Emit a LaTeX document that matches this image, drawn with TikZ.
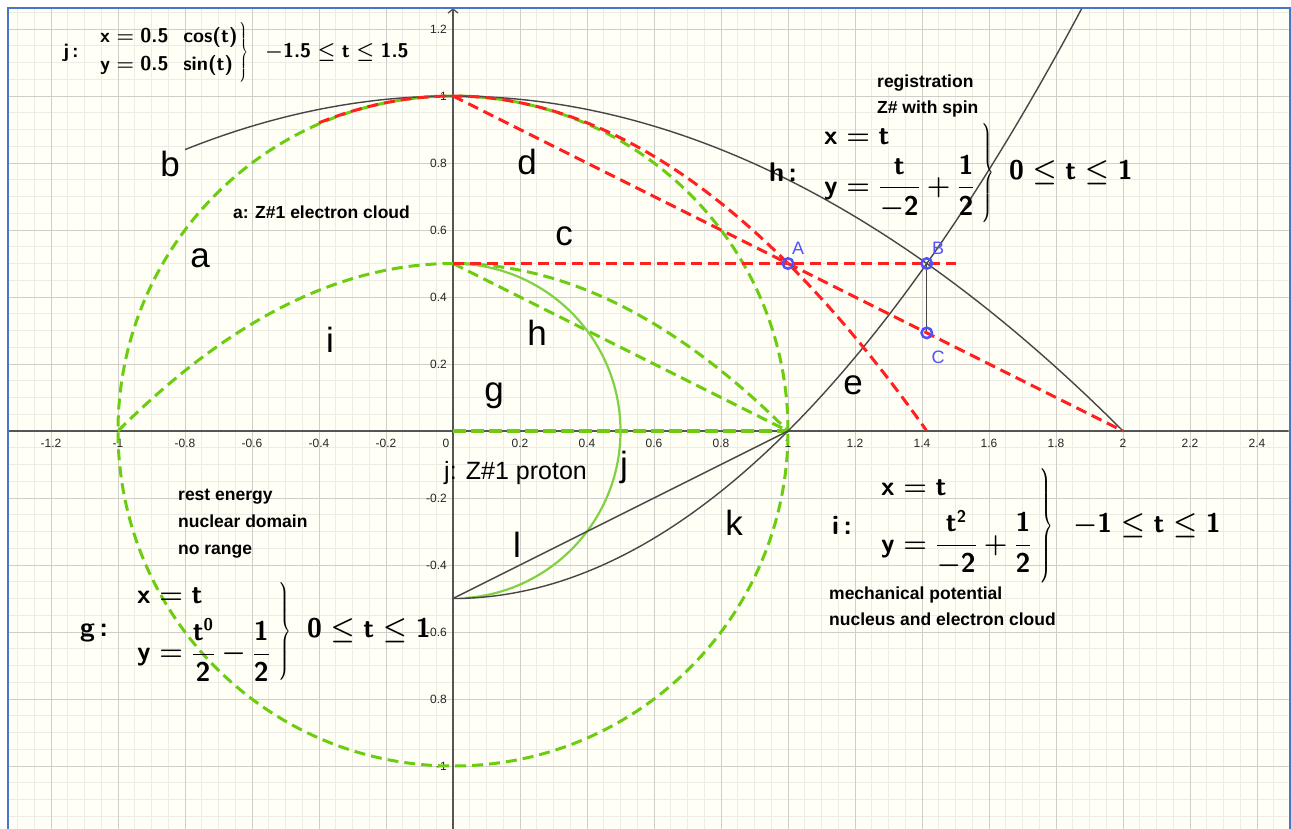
\RequirePackage{fix-cm}
\documentclass[tikz,border=0pt]{standalone}
\usepackage{amsmath}
\usepackage{graphicx}
\usepackage[no-math]{fontspec}
\setmainfont{Liberation Sans}
\usetikzlibrary{arrows.meta}
\definecolor{bgc}{RGB}{255,255,246}
\definecolor{minorc}{RGB}{237,235,230}
\definecolor{majorc}{RGB}{208,206,202}
\definecolor{framec}{RGB}{72,118,200}
\definecolor{axisc}{RGB}{85,85,85}
\definecolor{greenc}{RGB}{108,204,16}
\definecolor{greenj}{RGB}{130,208,70}
\definecolor{redc}{RGB}{255,32,32}
\definecolor{curvec}{RGB}{70,70,70}
\definecolor{bluec}{RGB}{80,80,255}
\newcommand{\fsz}[1]{\fontsize{#1}{#1}\selectfont}
\newcommand{\fb}[1]{\mbox{\sffamily\bfseries #1}}
\newcommand{\fsup}[1]{\mbox{\sffamily\bfseries\fontsize{17}{17}\selectfont #1}}
\newcommand{\mybrace}[2]{\resizebox*{#1}{#2}{\fsz{24}$\kern-\nulldelimiterspace\left.\vrule height 45pt depth 45pt width 0pt\right\}$}}
\tikzset{
 minorline/.style={minorc, line width=0.8pt},
 majorline/.style={majorc, line width=1pt},
 axisline/.style={axisc, line width=1.3pt},
 gdash/.style={greenc, line width=3pt, dash pattern=on 11pt off 6pt},
 gthick/.style={greenc, line width=4.5pt, dash pattern=on 13pt off 5pt},
 rdash/.style={redc, line width=3pt, dash pattern=on 11pt off 6pt},
 blk/.style={curvec, line width=1.4pt},
 gsolid/.style={greenj, line width=2.2pt},
 ticklab/.style={font=\fsz{12}, text=black!85, inner sep=0pt},
 biglab/.style={font=\fsz{35}, inner sep=0pt},
 note/.style={font=\fsz{17.5}\bfseries, inner sep=0pt, anchor=base west},
 ptmark/.style={draw=bluec, line width=2.5pt, circle, minimum size=10.5pt, inner sep=0pt},
 ptlab/.style={text=bluec, font=\fsz{18}, inner sep=0pt},
 fml/.style={inner sep=0pt, anchor=west},
 fbig/.style={font=\fsz{27}},
 fsmall/.style={font=\fsz{20}},
 brc/.style={inner sep=0pt},
}
\begin{document}
\begin{tikzpicture}[x=1pt,y=-1pt]
\useasboundingbox (0,0) rectangle (1291,828);
\fill[white] (0,0) rectangle (1291,828);
\fill[bgc] (7.5,7.5) rectangle (1289.5,850);
\begin{scope}
\clip (8.5,8.5) rectangle (1288.5,850);
\begin{scope}[shift={(453,431)}, x=335pt, y=335pt]
 % grid
 \foreach \i in {-28,...,51} \draw[minorline] (\i*0.05,-1.3) -- (\i*0.05,1.35);
 \foreach \i in {-25,...,26} \draw[minorline] (-1.4,\i*0.05) -- (2.6,\i*0.05);
 \foreach \i in {-7,...,13} \draw[majorline] (\i*0.2,-1.3) -- (\i*0.2,1.35);
 \foreach \i in {-6,...,6} \draw[majorline] (-1.4,\i*0.2) -- (2.6,\i*0.2);
 % named points
 \coordinate (O) at (0,0);
 \coordinate (P1) at (1,0);
 \coordinate (Q) at (0,0.5);
 \coordinate (T) at (0,1);
 \coordinate (X2) at (2,0);
 \coordinate (M) at (0,-0.5);
 \coordinate (R) at (1.5,0.5);
 \coordinate (A) at (1,0.5);
 \coordinate (B) at ({sqrt(2)},0.5);
 \coordinate (C) at ({sqrt(2)},{1-sqrt(2)/2});
 \coordinate (XL) at (-1.4,0);
 \coordinate (XR) at (2.6,0);
 \coordinate (YB) at (0,-1.3);
 \coordinate (YT) at (0,1.262);
 % axes
 \draw[axisline] (XL) -- (XR);
 \draw[axisline, -{Straight Barb[length=4pt, width=10pt]}] (YB) -- (YT);
 % tick labels
 \foreach \v [count=\k] in {-1.2,-1,-0.8,-0.6,-0.4,-0.2,0.2,0.4,0.6,0.8,1,1.2,1.4,1.6,1.8,2,2.2,2.4}
   \node[ticklab, yshift=-12pt] (xl\k) at (\v,0) {\v};
 \node[ticklab, xshift=-7pt, yshift=-12pt] (xl0) at (O) {0};
 \foreach \v/\t [count=\k] in {1.2/1.2,1/1,0.8/0.8,0.6/0.6,0.4/0.4,0.2/0.2,-0.2/-0.2,-0.4/-0.4,-0.6/-0.6,-0.8/0.8,-1/-1}
   \node[ticklab, anchor=east, xshift=-6pt] (yl\k) at (0,\v) {\t};
 % green curves
 \draw[gdash] (O) circle[radius=1];
 \draw[gdash] plot[domain=-1:1, samples=80, smooth] (\x,{0.5-\x*\x/2});
 \draw[gdash] (Q) -- (P1);
 \draw[gthick] (O) -- (P1);
 \draw[gsolid] (O) ++(-85.94:0.5) arc[start angle=-85.94, end angle=85.94, radius=0.5];
 % black curves
 \draw[blk] plot[domain=-0.8:2, samples=100, smooth] (\x,{1-\x*\x/4});
 \draw[blk] plot[domain=0:1.9, samples=100, smooth] (\x,{\x*\x/2-0.5});
 \draw[blk] (M) -- (P1);
 \draw[blk] (B) -- (C);
 % red curves
 \draw[rdash] plot[domain=-0.4:1.41421, samples=100, smooth] (\x,{1-\x*\x/2});
 \draw[rdash] (T) -- (X2);
 \draw[rdash] (Q) -- (R);
 % points
 \node[ptmark] (pA) at (A) {};
 \node[ptmark] (pB) at (B) {};
 \node[ptmark] (pC) at (C) {};
\end{scope}
\end{scope}
\draw[framec, line width=2pt] (7.5,850) -- (7.5,7.5) -- (1289.5,7.5) -- (1289.5,850);
% point labels
\node[ptlab] (lA) at (798,248) {A};
\node[ptlab] (lB) at (938,248) {B};
\node[ptlab] (lC) at (938,357) {C};
% curve labels
\node[biglab] (Lb) at (170,164) {b};
\node[biglab] (Ld) at (527,162) {d};
\node[biglab] (Lc) at (564,236) {c};
\node[biglab] (La) at (200,258) {a};
\node[biglab] (Li) at (330,340) {i};
\node[biglab] (Lh) at (537,333) {h};
\node[biglab] (Lg) at (494,396) {g};
\node[biglab] (Le) at (853,385) {e};
\node[biglab] (Lj) at (624,467) {j};
\node[biglab] (Lk) at (734,523) {k};
\node[biglab] (Ll) at (517,545) {l};
% notes
\node[note] (n1) at (233,218) {a: Z\#1 electron cloud};
\node[note] (n2) at (877,87) {registration};
\node[note] (n3) at (877,113) {Z\# with spin};
\node[note] (n4) at (178,500) {rest energy};
\node[note] (n5) at (178,527) {nuclear domain};
\node[note] (n6) at (178,554) {no range};
\node[note] (n7) at (829,599) {mechanical potential};
\node[note] (n8) at (829,625) {nucleus and electron cloud};
\node[inner sep=0pt, anchor=base west, font=\fsz{25}] (n9) at (444,479) {j: Z\#1 proton};
% formula j
\node[fsmall, inner sep=0pt] (jl) at (71,53) {\sffamily\bfseries j\,:};
\node[fml, fsmall] (jx) at (100,37) {\mbox{\boldmath$\fb{x} = \fb{0.5\ \ cos(t)}$}};
\node[fml, fsmall] (jy) at (100,65) {\mbox{\boldmath$\fb{y} = \fb{0.5\ \ sin(t)}$}};
\node[brc] (jb) at (244,52) {\mybrace{9pt}{60pt}};
\node[fml, fsmall] (jr) at (265,52) {\mbox{\boldmath$-\fb{1.5} \le \fb{t} \le \fb{1.5}$}};
% formula h
\node[fbig, inner sep=0pt] (hl) at (783,172) {\sffamily\bfseries h\,:};
\node[fml, fbig] (hx) at (824,137) {\mbox{\boldmath$\fb{x} = \fb{t}$}};
\node[fml, fbig] (hy) at (824,187) {\mbox{\boldmath$\fb{y} = \dfrac{\fb{t}}{-\fb{2}} + \dfrac{\fb{1}}{\fb{2}}$}};
\node[brc] (hb) at (988,173) {\mybrace{13pt}{99pt}};
\node[fml, fbig] (hr) at (1009,172) {\mbox{\boldmath$\fb{0} \le \fb{t} \le \fb{1}$}};
% formula i
\node[fbig, inner sep=0pt] (il) at (842,525) {\sffamily\bfseries i\,:};
\node[fml, fbig] (ix) at (881,488) {\mbox{\boldmath$\fb{x} = \fb{t}$}};
\node[fml, fbig] (iy) at (881,543) {\mbox{\boldmath$\fb{y} = \dfrac{\fb{t}^{\fsup{2}}}{-\fb{2}} + \dfrac{\fb{1}}{\fb{2}}$}};
\node[brc] (ib) at (1046,526) {\mybrace{14pt}{115pt}};
\node[fml, fbig] (ir) at (1073,525) {\mbox{\boldmath$-\fb{1} \le \fb{t} \le \fb{1}$}};
% formula g
\node[fbig, inner sep=0pt] (gl) at (94,633) {\sffamily\bfseries g\,:};
\node[fml, fbig] (gx) at (137,596) {\mbox{\boldmath$\fb{x} = \fb{t}$}};
\node[fml, fbig] (gy) at (137,650) {\mbox{\boldmath$\fb{y} = \dfrac{\fb{t}^{\fsup{0}}}{\fb{2}} - \dfrac{\fb{1}}{\fb{2}}$}};
\node[brc] (gb) at (285,631) {\mybrace{13pt}{98pt}};
\node[fml, fbig] (gr) at (307,630) {\mbox{\boldmath$\fb{0} \le \fb{t} \le \fb{1}$}};
\end{tikzpicture}
\end{document}
